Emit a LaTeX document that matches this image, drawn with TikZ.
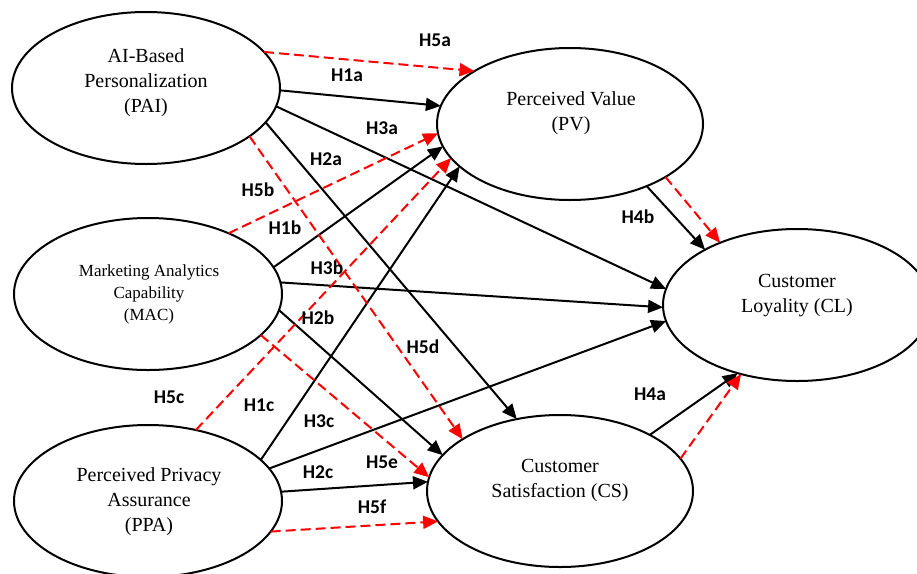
\documentclass[tikz,border=0pt]{standalone}
\usepackage{fontspec}
\setmainfont{Liberation Serif}
\newfontfamily\lblfont{Carlito}
\usetikzlibrary{arrows.meta,shapes.geometric}
\begin{document}
\begin{tikzpicture}[x=1pt,y=-1pt,
  ell/.style={ellipse, draw, line width=2pt, inner sep=0pt, outer sep=0pt},
  big/.style={ell, minimum width=268pt, minimum height=152pt},
  txt/.style={align=center, inner sep=0pt, font=\fontsize{20}{25}\selectfont},
  smalltxt/.style={align=center, inner sep=0pt, font=\fontsize{17}{22}\selectfont},
  lbl/.style={inner sep=0pt, font=\lblfont\bfseries\fontsize{19.5}{22}\selectfont},
  sarr/.style={line width=2pt, -{Triangle[length=15pt,width=13pt]}},
  darr/.style={red, line width=2pt, dash pattern=on 10pt off 5pt, -{Triangle[length=15pt,width=13pt]}},
]
\clip (0,0) rectangle (917,573);
% ellipses
\node[big] (pai) at (146,88) {};
\node[big] (mac) at (148,294) {};
\node[big] (ppa) at (148,501) {};
\node[big, minimum width=266pt] (pv) at (570,124) {};
\node[big] (cl) at (797,305) {};
\node[big, minimum width=266pt] (cs) at (560,491) {};
% texts
\node[txt] (paitxt) at (146,82.5) {AI-Based\\Personalization\\(PAI)};
\node[smalltxt] (mactxt) at (149,294.5) {Marketing Analytics\\Capability\\(MAC)};
\node[txt] (ppatxt) at (149,501.5) {Perceived Privacy\\Assurance\\(PPA)};
\node[txt] (pvtxt) at (571,113.5) {Perceived Value\\(PV)};
\node[txt] (cltxt) at (797,296) {Customer\\Loyality (CL)};
\node[txt] (cstxt) at (560,480) {Customer\\Satisfaction (CS)};
% black paths
\draw[sarr] (pai.-1.3) -- (pv.172);
\draw[sarr] (pai.-8.2) -- (cl.173.6);
\draw[sarr] (pai.-16.3) -- (cs.121.9);
\draw[sarr] (mac.12.2) -- (pv.190.7);
\draw[sarr] (mac.5.6) -- (cl.181.3);
\draw[sarr] (mac.-7.9) -- (cs.163.8);
\draw[sarr] (ppa.20.3) -- (pv.201.2);
\draw[sarr] (ppa.15.8) -- (cl.187.8);
\draw[sarr] (ppa.4.3) -- (cs.176.2);
\draw[sarr] (pv.-39.8) -- (cl.149);
\draw[sarr] (cs.32.3) -- (cl.229);
% red dashed paths
\draw[darr] (pai.17.2) -- (pv.151.1);
\draw[darr] (pai.-25.4) -- (cs.152.3);
\draw[darr] (mac.37.7) -- (pv.184.7);
\draw[darr] (mac.-20.1) -- (cs.174.9);
\draw[darr] (ppa.56.8) -- (pv.196.4);
\draw[darr] (ppa.-14.8) -- (cs.194.6);
\draw[darr] (pv.-29.7) -- (cl.141.2);
\draw[darr] (cs.15.5) -- (cl.231.8);
% labels
\node[lbl] (h5a) at (435,40) {H5a};
\node[lbl] (h1a) at (347,75) {H1a};
\node[lbl] (h3a) at (382,128) {H3a};
\node[lbl] (h2a) at (326,159) {H2a};
\node[lbl] (h5b) at (258,190) {H5b};
\node[lbl] (h1b) at (285,228) {H1b};
\node[lbl] (h3b) at (327,268) {H3b};
\node[lbl] (h2b) at (318,318) {H2b};
\node[lbl] (h5d) at (423,347) {H5d};
\node[lbl] (h5c) at (169,397) {H5c};
\node[lbl] (h1c) at (259,405) {H1c};
\node[lbl] (h3c) at (319,421) {H3c};
\node[lbl] (h5e) at (382,462) {H5e};
\node[lbl] (h2c) at (318,472) {H2c};
\node[lbl] (h5f) at (372,507) {H5f};
\node[lbl] (h4b) at (638,217) {H4b};
\node[lbl] (h4a) at (650,394) {H4a};
\end{tikzpicture}
\end{document}
